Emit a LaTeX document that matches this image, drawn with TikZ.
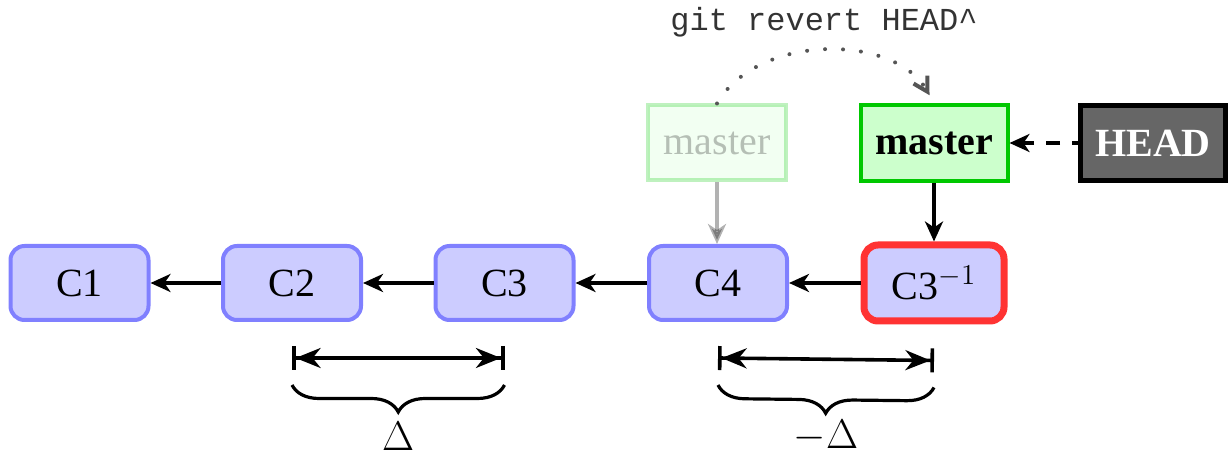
\documentclass[tikz,border=0pt]{standalone}
\usepackage{fontspec}
\setmainfont{Liberation Serif}
\setmonofont{Liberation Mono}
\usetikzlibrary{arrows.meta,decorations.pathreplacing,calc}
\definecolor{cfill}{HTML}{CCCCFF}
\definecolor{cdraw}{HTML}{8080FF}
\definecolor{mfill}{HTML}{CCFFCC}
\definecolor{mdraw}{HTML}{00C800}
\definecolor{rdraw}{HTML}{FF3333}
\definecolor{hfill}{HTML}{666666}
\definecolor{dotc}{HTML}{555555}
\begin{document}
\begin{tikzpicture}[x=0.5pt,y=0.5pt,
  big/.style={font=\fontsize{20}{24}\selectfont},
  commit/.style={big, draw=cdraw, fill=cfill, line width=2pt, rounded corners=7pt,
    minimum width=69pt, minimum height=37pt, inner sep=0pt},
  revcommit/.style={commit, draw=rdraw, line width=3.5pt, minimum width=70pt, minimum height=38pt},
  branch/.style={font=\fontsize{20}{24}\selectfont\bfseries, draw=mdraw, fill=mfill, line width=2pt,
    minimum width=73.5pt, minimum height=38pt, inner sep=0pt},
  oldbranch/.style={big, draw=mdraw, fill=mfill, line width=2pt, opacity=0.25,
    minimum width=69pt, minimum height=37.5pt, inner sep=0pt},
  headbox/.style={font=\fontsize{20}{24}\selectfont\bfseries, draw=black, fill=hfill, text=white,
    line width=2.5pt, minimum width=72.5pt, minimum height=37.5pt, inner sep=0pt},
  parent/.style={line width=1.8pt, -{Stealth[length=10pt,width=9pt,inset=3pt]}},
  measure/.style={line width=1.8pt,
    {Bar[width=12pt]Stealth[length=12.5pt,width=10pt,inset=4pt]}-{Stealth[length=12.5pt,width=10pt,inset=4pt]Bar[width=12pt]}},
  bracestyle/.style={line width=1.6pt, decorate, decoration={brace, mirror, amplitude=13.5pt}},
  cmdstyle/.style={font=\ttfamily\fontsize{16}{19}\selectfont, text=black!80},
  revarrow/.style={dotc, line width=2pt, line cap=round, dash pattern=on 0pt off 9pt,
    -{Straight Barb[length=7pt,width=8pt,line width=2pt]}, shorten >=4.5pt}
]
\useasboundingbox (0,0) rectangle (1231,459);

\node[commit] (c1) at (79.5,176) {C1};
\node[commit] (c2) at (292,176) {C2};
\node[commit] (c3) at (504.5,176) {C3};
\node[commit] (c4) at (718,176) {C4};
\node[revcommit] (c5) at (934,176) {C3$^{-1}$};

\node[oldbranch] (oldm) at (717,316) {master};
\node[branch] (m) at (934,316) {master};
\node[headbox] (head) at (1153,316) {HEAD};

\node[cmdstyle] (cmd) at (824,437) {git revert HEAD\textasciicircum};

\draw[parent] (c2) -- (c1);
\draw[parent] (c3) -- (c2);
\draw[parent] (c4) -- (c3);
\draw[parent] (c5) -- (c4);
\draw[parent] (m) -- (c5);
\draw[parent, opacity=0.3] (oldm.south) -- (oldm.south |- c4.north);
\draw[parent, line width=2pt, dash pattern=on 7pt off 6pt, dash phase=4pt] (head) -- (m);

\draw[revarrow] (oldm.north) to[out=60,in=120,looseness=0.95] (m.north);

\coordinate (a1) at ($(c2.south)+(0,-36)$);
\coordinate (a2) at ($(c3.south)+(0,-36)$);
\coordinate (a3) at ($(c4.south)+(0,-36)$);
\coordinate (a4) at ($(c5.south)+(0,-36)$);
\draw[measure] (a1) -- (a2);
\draw[measure] (a3) -- (a4);

\coordinate (b1) at ($(c2.south)+(0,-63)$);
\coordinate (b2) at ($(c3.south)+(0,-63)$);
\coordinate (b3) at ($(c4.south)+(0,-63)$);
\coordinate (b4) at ($(c5.south)+(0,-63)$);
\draw[bracestyle] (b1) -- (b2) node[big, midway, yshift=-25.5pt] (d1) {$\Delta$};
\draw[bracestyle] (b3) -- (b4) node[big, midway, yshift=-25pt] (d2) {$-\Delta$};
\end{tikzpicture}
\end{document}
